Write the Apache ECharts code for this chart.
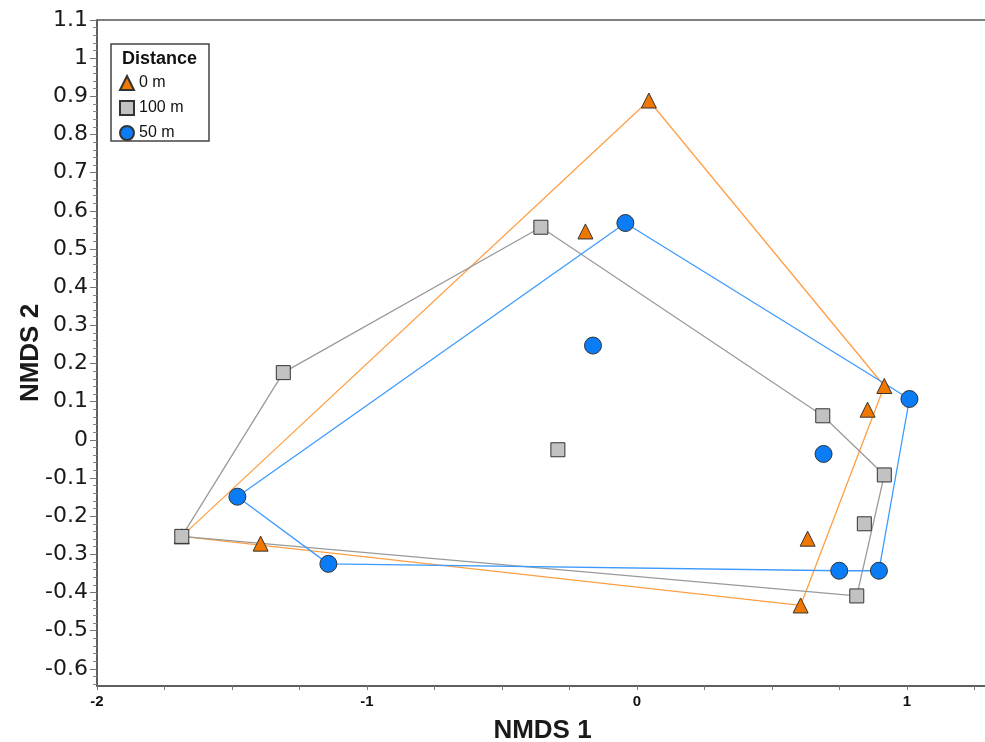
<!DOCTYPE html>
<html><head><meta charset="utf-8">
<script src="https://cdn.jsdelivr.net/npm/echarts@6/dist/echarts.min.js"></script>
<style>html,body{margin:0;padding:0;background:#fff;overflow:hidden}#c{width:985px;height:742px}</style>
</head><body><div id="c"></div>
<script>
// ---- data ----
const groups = ['0 m', '100 m', '50 m'];

const m0X = [0.044, -0.191, 0.916, 0.854, 0.632, 0.606, -1.394, -1.686];
const m0Y = [0.889, 0.546, 0.141, 0.079, -0.259, -0.434, -0.272, -0.253];

const m100X = [-0.356, -1.310, -1.686, -0.293, 0.688, 0.916, 0.842, 0.814];
const m100Y = [0.557, 0.176, -0.253, -0.026, 0.063, -0.092, -0.220, -0.409];

const m50X = [-0.043, -0.163, 1.009, 0.691, 0.749, 0.896, -1.480, -1.143];
const m50Y = [0.568, 0.247, 0.107, -0.037, -0.343, -0.343, -0.149, -0.325];

// convex hull vertex order (indices into the arrays above)
const hull0 = [7, 0, 2, 5, 7];
const hull100 = [2, 1, 0, 4, 5, 7, 2];
const hull50 = [6, 0, 2, 5, 4, 7, 6];

const xTickLabels = [-2, -1, 0, 1];
const yTickLabels = [-0.6, -0.5, -0.4, -0.3, -0.2, -0.1, 0, 0.1, 0.2, 0.3, 0.4, 0.5, 0.6, 0.7, 0.8, 0.9, 1, 1.1];

// ---- build ----
const yMinor = [];
for (let k = -32; k <= 55; k++) {
  if (k % 5 !== 0) yMinor.push(Math.round(k * 2) / 100);
}
const pts = (xs, ys) => xs.map((x, i) => [x, ys[i]]);
const hullPts = (xs, ys, h) => h.map(i => [xs[i], ys[i]]);

const lineCol = ['#FF9F45', '#9A9A9A', '#3D9BFF'];
const fillCol = ['#F07800', '#C2C2C2', '#0A7CF5'];
const syms = ['triangle', 'rect', 'circle'];
const sizes = [15, 14, 17];
const XS = [m0X, m100X, m50X], YS = [m0Y, m100Y, m50Y], HS = [hull0, hull100, hull50];

const series = [];
for (let g = 0; g < 3; g++) {
  series.push({
    name: '_hull' + g, type: 'line', data: hullPts(XS[g], YS[g], HS[g]),
    symbol: 'none', silent: true, z: 1, animation: false,
    lineStyle: { color: lineCol[g], width: 1.3 }
  });
}
for (let g = 0; g < 3; g++) {
  series.push({
    name: groups[g], type: 'scatter', data: pts(XS[g], YS[g]),
    symbol: syms[g], symbolSize: sizes[g], z: 3 + g, animation: false,
    itemStyle: { color: fillCol[g], borderColor: '#333', borderWidth: 1, opacity: 1 }
  });
}

const el = document.getElementById('c');
const chart = echarts.init(el, null, { renderer: 'canvas' });
chart.setOption({
  backgroundColor: '#fff',
  animation: false,
  grid: { left: 97, right: -3, top: 20, bottom: 56, containLabel: false, outerBoundsMode: 'none', show: true, borderColor: '#555', borderWidth: 1.5, backgroundColor: 'transparent' },
  xAxis: {
    type: 'value', min: -2, max: 1.3, interval: 0.25,
    axisLine: { show: true, onZero: false, lineStyle: { color: '#555', width: 1.5 } },
    axisTick: { show: true, length: 4, lineStyle: { color: '#777' } },
    axisLabel: { customValues: xTickLabels, fontFamily: 'Liberation Sans', fontWeight: 'bold', fontSize: 15, color: '#111', margin: 8 },
    splitLine: { show: false },
    name: 'NMDS 1', nameLocation: 'middle', nameGap: 32, nameMoveOverlap: false,
    nameTextStyle: { fontFamily: 'Liberation Sans', fontWeight: 'bold', fontSize: 26, color: '#1a1a1a' }
  },
  yAxis: [{
    type: 'value', min: -0.645, max: 1.1,
    axisLine: { show: true, onZero: false, lineStyle: { color: '#555', width: 1.5 } },
    axisTick: { show: true, customValues: yTickLabels, length: 7, lineStyle: { color: '#777' } },
    axisLabel: { customValues: yTickLabels, fontFamily: 'DejaVu Sans', fontSize: 22, color: '#1a1a1a', margin: 9 },
    splitLine: { show: false },
    name: 'NMDS 2', nameLocation: 'middle', nameGap: 53, nameRotate: 90, nameMoveOverlap: false,
    nameTextStyle: { fontFamily: 'Liberation Sans', fontWeight: 'bold', fontSize: 26, color: '#1a1a1a' }
  }, {
    type: 'value', min: -0.645, max: 1.1, position: 'left', offset: 0,
    axisLine: { show: false, onZero: false },
    axisTick: { show: true, customValues: yMinor, length: 4, lineStyle: { color: '#888' } },
    axisLabel: { show: false },
    splitLine: { show: false }
  }],
  legend: {
    data: groups, orient: 'vertical', left: 119, top: 75, padding: 0,
    itemWidth: 14, itemHeight: 14, itemGap: 9,
    textStyle: { fontFamily: 'Liberation Sans', fontSize: 16, color: '#111' },
    selectedMode: false
  },
  graphic: [
    { type: 'rect', z: 0, shape: { x: 111, y: 44, width: 98, height: 97 }, style: { fill: '#fff', stroke: '#444', lineWidth: 1.5 } },
    { type: 'text', z: 1, left: 122, top: 50, style: { text: 'Distance', font: 'bold 18px "Liberation Sans"', fill: '#111' } }
  ],
  series: series
});
</script></body></html>
